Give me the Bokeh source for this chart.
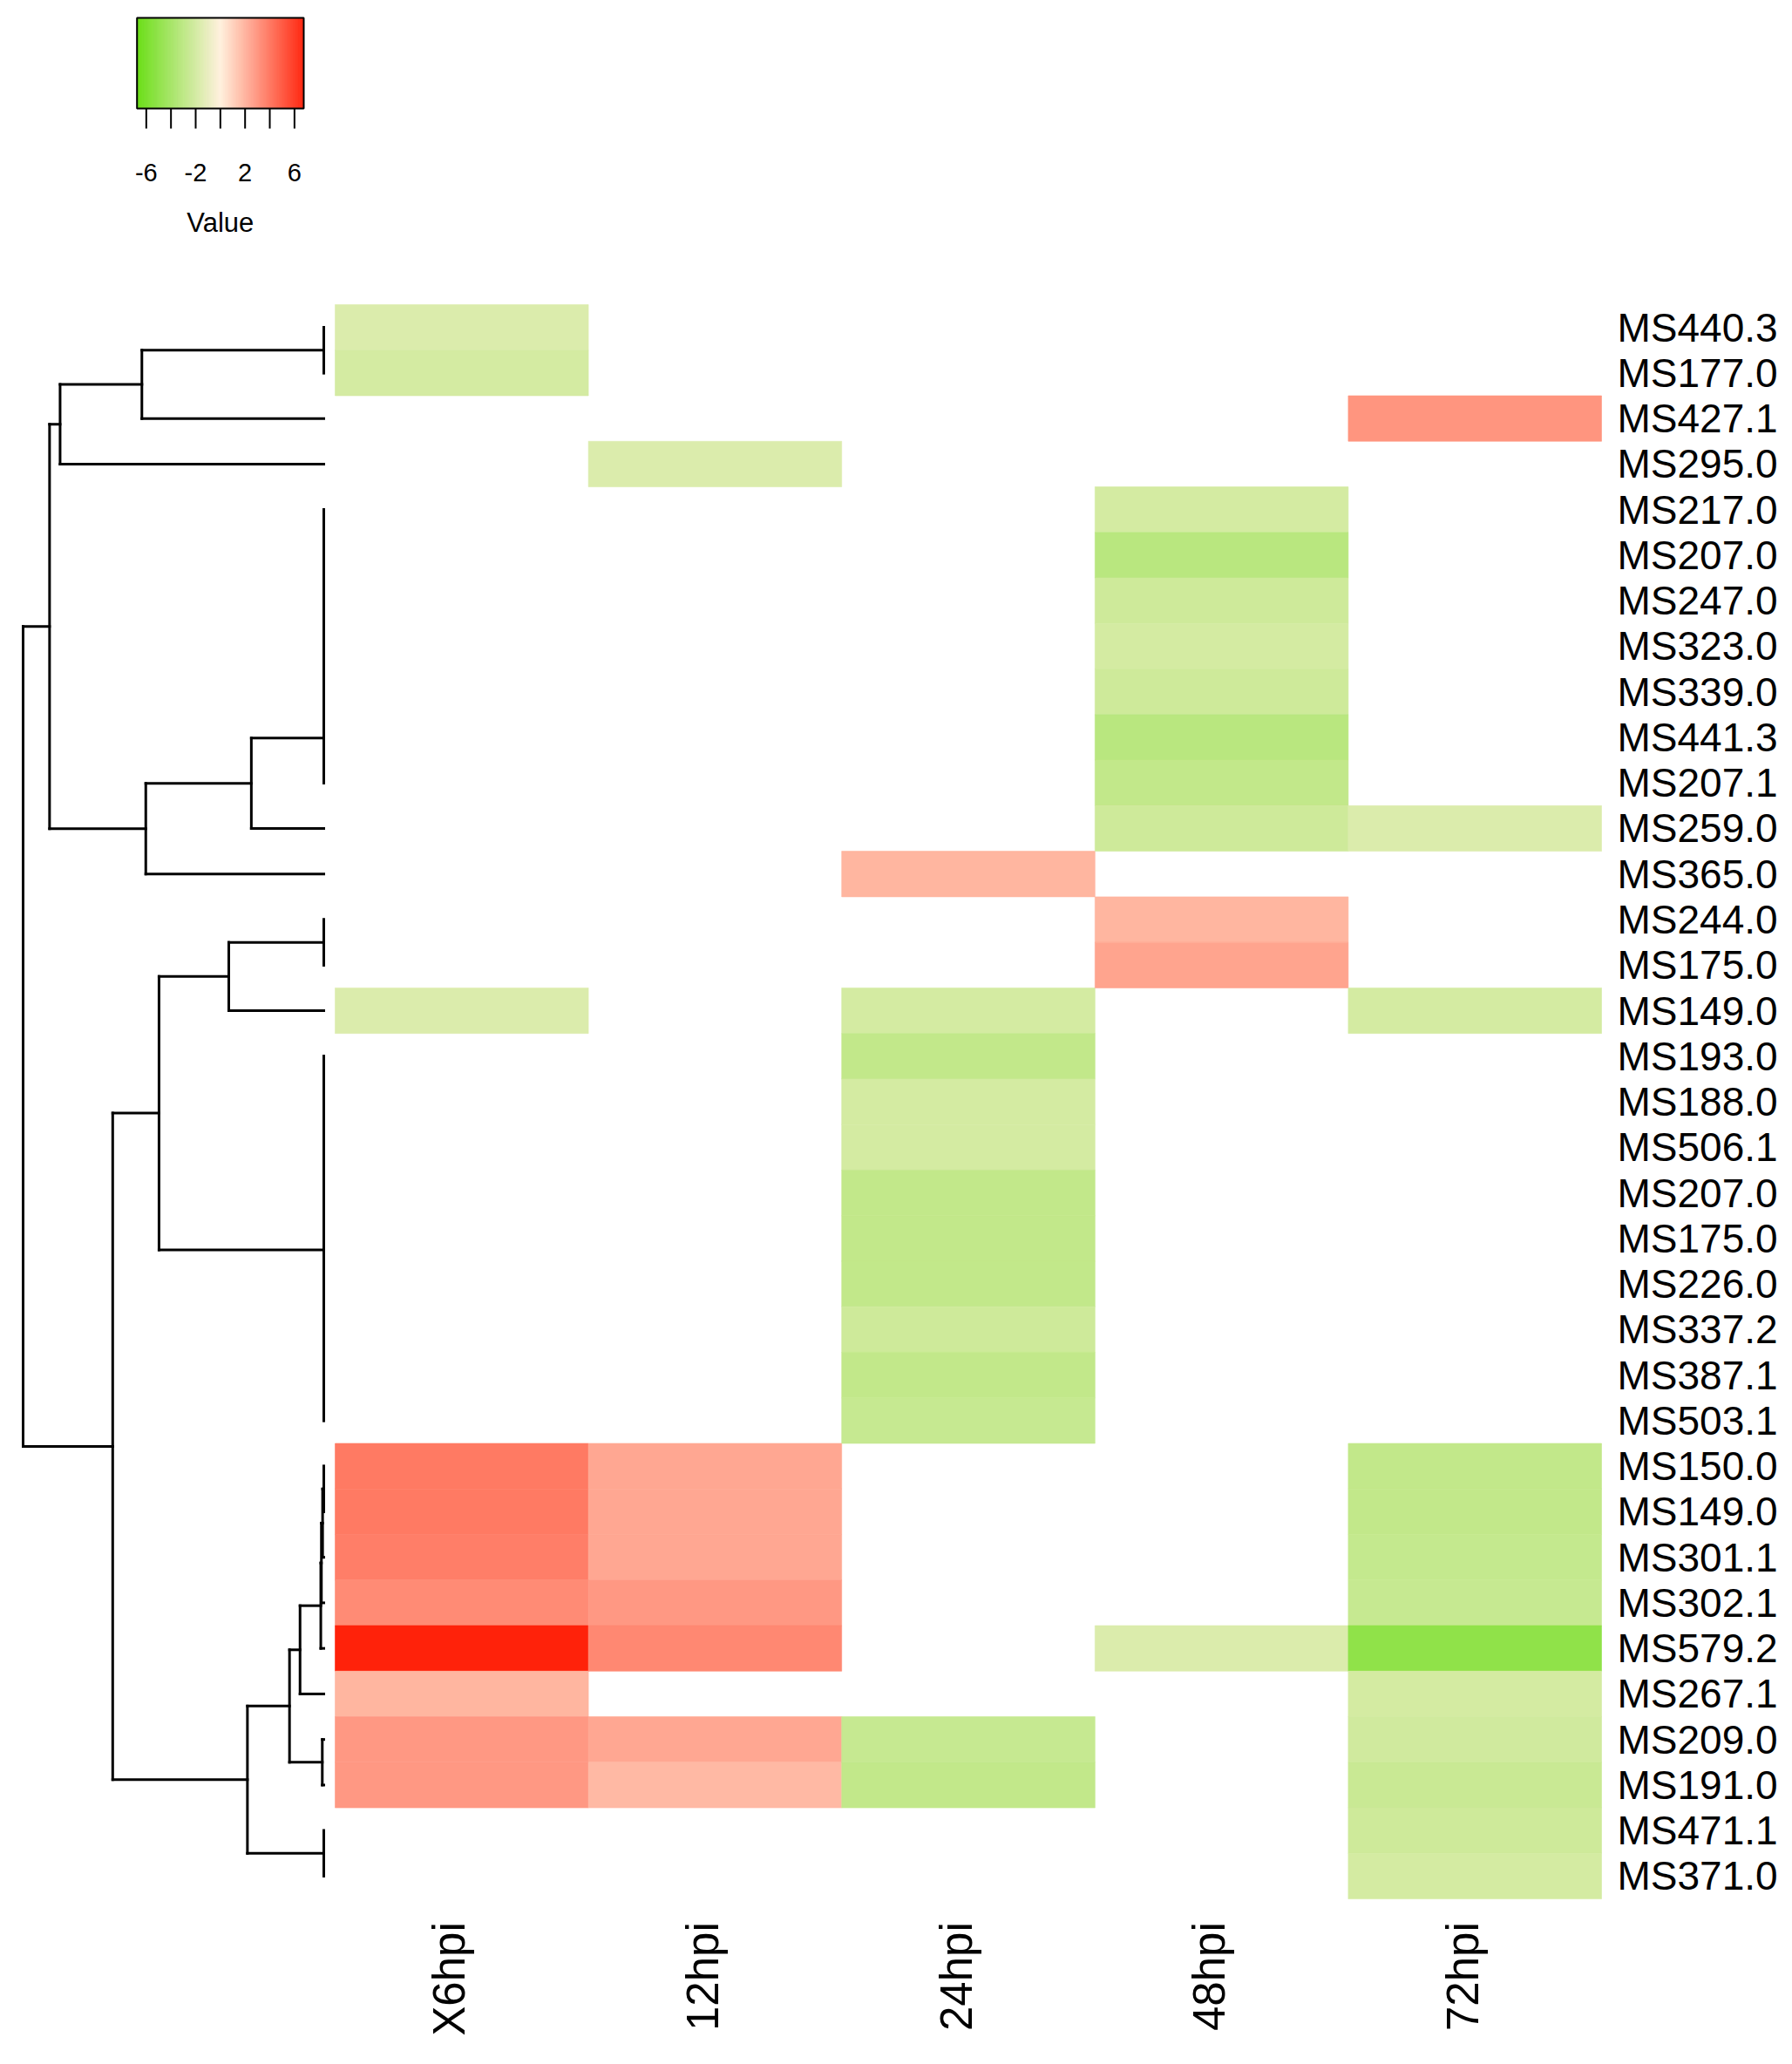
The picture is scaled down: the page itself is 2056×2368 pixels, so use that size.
import numpy as np
from bokeh.plotting import figure
from bokeh.models import Range1d, LinearColorMapper, ColumnDataSource
from bokeh.embed import file_html
from bokeh.resources import INLINE
from bokeh.core.properties import value

N = np.nan

# ---------------- data ----------------
row_labels = ["MS440.3", "MS177.0", "MS427.1", "MS295.0", "MS217.0", "MS207.0", "MS247.0",
              "MS323.0", "MS339.0", "MS441.3", "MS207.1", "MS259.0", "MS365.0", "MS244.0",
              "MS175.0", "MS149.0", "MS193.0", "MS188.0", "MS506.1", "MS207.0", "MS175.0",
              "MS226.0", "MS337.2", "MS387.1", "MS503.1", "MS150.0", "MS149.0", "MS301.1",
              "MS302.1", "MS579.2", "MS267.1", "MS209.0", "MS191.0", "MS471.1", "MS371.0"]
col_labels = ["X6hpi", "12hpi", "24hpi", "48hpi", "72hpi"]

v_X6hpi = [-1.6, -1.9, N, N, N, N, N, N, N, N, N, N, N, N, N, -1.6, N, N, N, N, N, N, N, N, N,
           3.9, 3.9, 3.7, 3.3, 6.7, 1.9, 2.9, 2.9, N, N]
v_12hpi = [N, N, N, -1.6, N, N, N, N, N, N, N, N, N, N, N, N, N, N, N, N, N, N, N, N, N,
           2.4, 2.4, 2.4, 2.9, 3.4, N, 2.4, 1.8, N, N]
v_24hpi = [N, N, N, N, N, N, N, N, N, N, N, N, 1.9, N, N, -1.9, -2.7, -1.9, -1.9, -2.7, -2.7,
           -2.7, -2.2, -2.7, -2.5, N, N, N, N, N, N, -2.5, -2.7, N, N]
v_48hpi = [N, N, N, N, -1.9, -3.1, -2.2, -1.9, -2.2, -3.1, -2.7, -2.2, N, 1.9, 2.5, N, N, N, N,
           N, N, N, N, N, N, N, N, N, N, -1.6, N, N, N, N, N]
v_72hpi = [N, N, 3.0, N, N, N, N, N, N, N, N, -1.6, N, N, N, -1.9, N, N, N, N, N, N, N, N, N,
           -2.7, -2.7, -2.6, -2.5, -4.9, -1.9, -2.1, -2.4, -2.2, -1.9]

key_ticks = [-6, -2, 2, 6]
key_minor_ticks = [-4, 0, 4]
key_tick_labels = ["-6", "-2", "2", "6"]
key_title = "Value"
value_limit = 6.75

# row dendrogram: (child_a, child_b, height); negative = leaf row -(i+1), positive = earlier merge (1-based)
merges = [
    (-1, -2, 0.0), (1, -3, 6.05), (2, -4, 8.77),
    (-5, -6, 0.0), (4, -7, 0.0), (5, -8, 0.0), (6, -9, 0.0), (7, -10, 0.0), (8, -11, 0.0),
    (9, -12, 2.41), (10, -13, 5.92), (3, 11, 9.12),
    (-14, -15, 0.0), (13, -16, 3.16),
    (-17, -18, 0.0), (15, -19, 0.0), (16, -20, 0.0), (-21, -22, 0.0), (18, -23, 0.0),
    (-24, -25, 0.0), (19, 20, 0.0), (17, 21, 0.0), (14, 22, 5.48),
    (-26, -27, 0.0), (24, -28, 0.04), (25, -29, 0.08), (26, -30, 0.10), (27, -31, 0.79),
    (-32, -33, 0.05), (28, 29, 1.14), (-34, -35, 0.0), (30, 31, 2.54),
    (23, 32, 7.02), (12, 33, 10.0),
]

# ---------------- palette ----------------
low, mid, high = (102, 221, 17), (255, 240, 220), (255, 34, 10)
def _mix(a, b, t):
    return "#%02x%02x%02x" % tuple(int(round(a[i] + (b[i] - a[i]) * t)) for i in range(3))
palette = [_mix(low, mid, t) for t in np.linspace(0, 1, 128)] + \
          [_mix(mid, high, t) for t in np.linspace(0, 1, 128)]
mapper = LinearColorMapper(palette=palette, low=-value_limit, high=value_limit)

FONT = value("Liberation Sans")

# ---------------- figure & scales ----------------
W, H = 2040, 2352
col_w, row_h = 290.6, 52.26
x0_px, y0_px = 384.0, 349.0          # heatmap top-left inside the canvas
p = figure(width=W, height=H,
           x_range=Range1d(-x0_px / col_w, (W - x0_px) / col_w),
           y_range=Range1d((H - y0_px) / row_h, -y0_px / row_h),
           output_backend="svg", toolbar_location=None, min_border=0,
           x_axis_location=None, y_axis_location=None)
p.grid.visible = False
p.outline_line_color = None

# colour-key scales: value units horizontally, bar height units vertically
kx0, kpx = 156.7, 14.17               # left edge of key bar, pixels per value unit
ky_bottom, kbar = 124.0, 104.0        # key bar bottom (px from top), bar height px
p.extra_x_ranges["keyx"] = Range1d(-value_limit - kx0 / kpx, -value_limit + (W - kx0) / kpx)
p.extra_y_ranges["keyy"] = Range1d(-(H - ky_bottom) / kbar, ky_bottom / kbar)

# dendrogram scale
leaf_px, px_per_h = 371.0, 34.5
p.extra_x_ranges["dend"] = Range1d(leaf_px / px_per_h, (leaf_px - W) / px_per_h)

# ---------------- colour key ----------------
edges = np.linspace(-value_limit, value_limit, len(palette) + 1)
p.quad(left=edges[:-1], right=edges[1:], bottom=0, top=1, fill_color=palette,
       line_color=palette, line_width=0.5, x_range_name="keyx", y_range_name="keyy")
p.quad(left=[-value_limit], right=[value_limit], bottom=[0], top=[1], fill_color=None,
       line_color="black", line_width=2, x_range_name="keyx", y_range_name="keyy")
all_ticks = sorted(key_ticks + key_minor_ticks)
tick_len = 23 / kbar
p.segment(x0=all_ticks, y0=[0] * len(all_ticks), x1=all_ticks, y1=[-tick_len] * len(all_ticks),
          line_color="black", line_width=2, x_range_name="keyx", y_range_name="keyy")
p.text(x=key_ticks, y=[-0.71] * len(key_ticks), text=key_tick_labels, text_font=FONT,
       text_font_size="29px", text_align="center", text_baseline="middle", text_color="black",
       x_range_name="keyx", y_range_name="keyy")
p.text(x=[0], y=[-1.26], text=[key_title], text_font=FONT, text_font_size="31px",
       text_align="center", text_baseline="middle", text_color="black",
       x_range_name="keyx", y_range_name="keyy")

# ---------------- heatmap ----------------
cols = [v_X6hpi, v_12hpi, v_24hpi, v_48hpi, v_72hpi]
cx, cy, cv = [], [], []
for j, vals in enumerate(cols):
    for i, v in enumerate(vals):
        if not np.isnan(v):
            cx.append(j + 0.5)
            cy.append(i + 0.5)
            cv.append(v)
src = ColumnDataSource(dict(x=cx, y=cy, v=cv))
p.rect(x="x", y="y", width=1, height=1, source=src,
       fill_color={"field": "v", "transform": mapper},
       line_color={"field": "v", "transform": mapper}, line_width=0.6)

nrow = len(row_labels)
p.text(x=[5.062] * nrow, y=[i + 0.5 for i in range(nrow)], text=row_labels,
       text_font=FONT, text_font_size="46px", text_baseline="middle", text_align="left",
       text_color="black")
p.text(x=[j + 0.5 for j in range(len(col_labels))], y=[nrow + 0.51] * len(col_labels),
       text=col_labels, angle=np.pi / 2, text_font=FONT, text_font_size="51px",
       text_baseline="middle", text_align="right", text_color="black", x_offset=-14)

# ---------------- dendrogram ----------------
pos = {}
sx0, sy0, sx1, sy1 = [], [], [], []
def _get(c):
    return (0.0, -c - 1 + 0.5) if c < 0 else pos[c]
for kk, (a, b, h) in enumerate(merges, start=1):
    ha, ya = _get(a)
    hb, yb = _get(b)
    sx0 += [ha, hb, h]; sy0 += [ya, yb, ya]
    sx1 += [h, h, h];   sy1 += [ya, yb, yb]
    pos[kk] = (h, (ya + yb) / 2)
p.segment(x0=sx0, y0=sy0, x1=sx1, y1=sy1, x_range_name="dend", line_color="black",
          line_width=3, line_cap="square")

open("out.html", "w").write(file_html(p, INLINE))
